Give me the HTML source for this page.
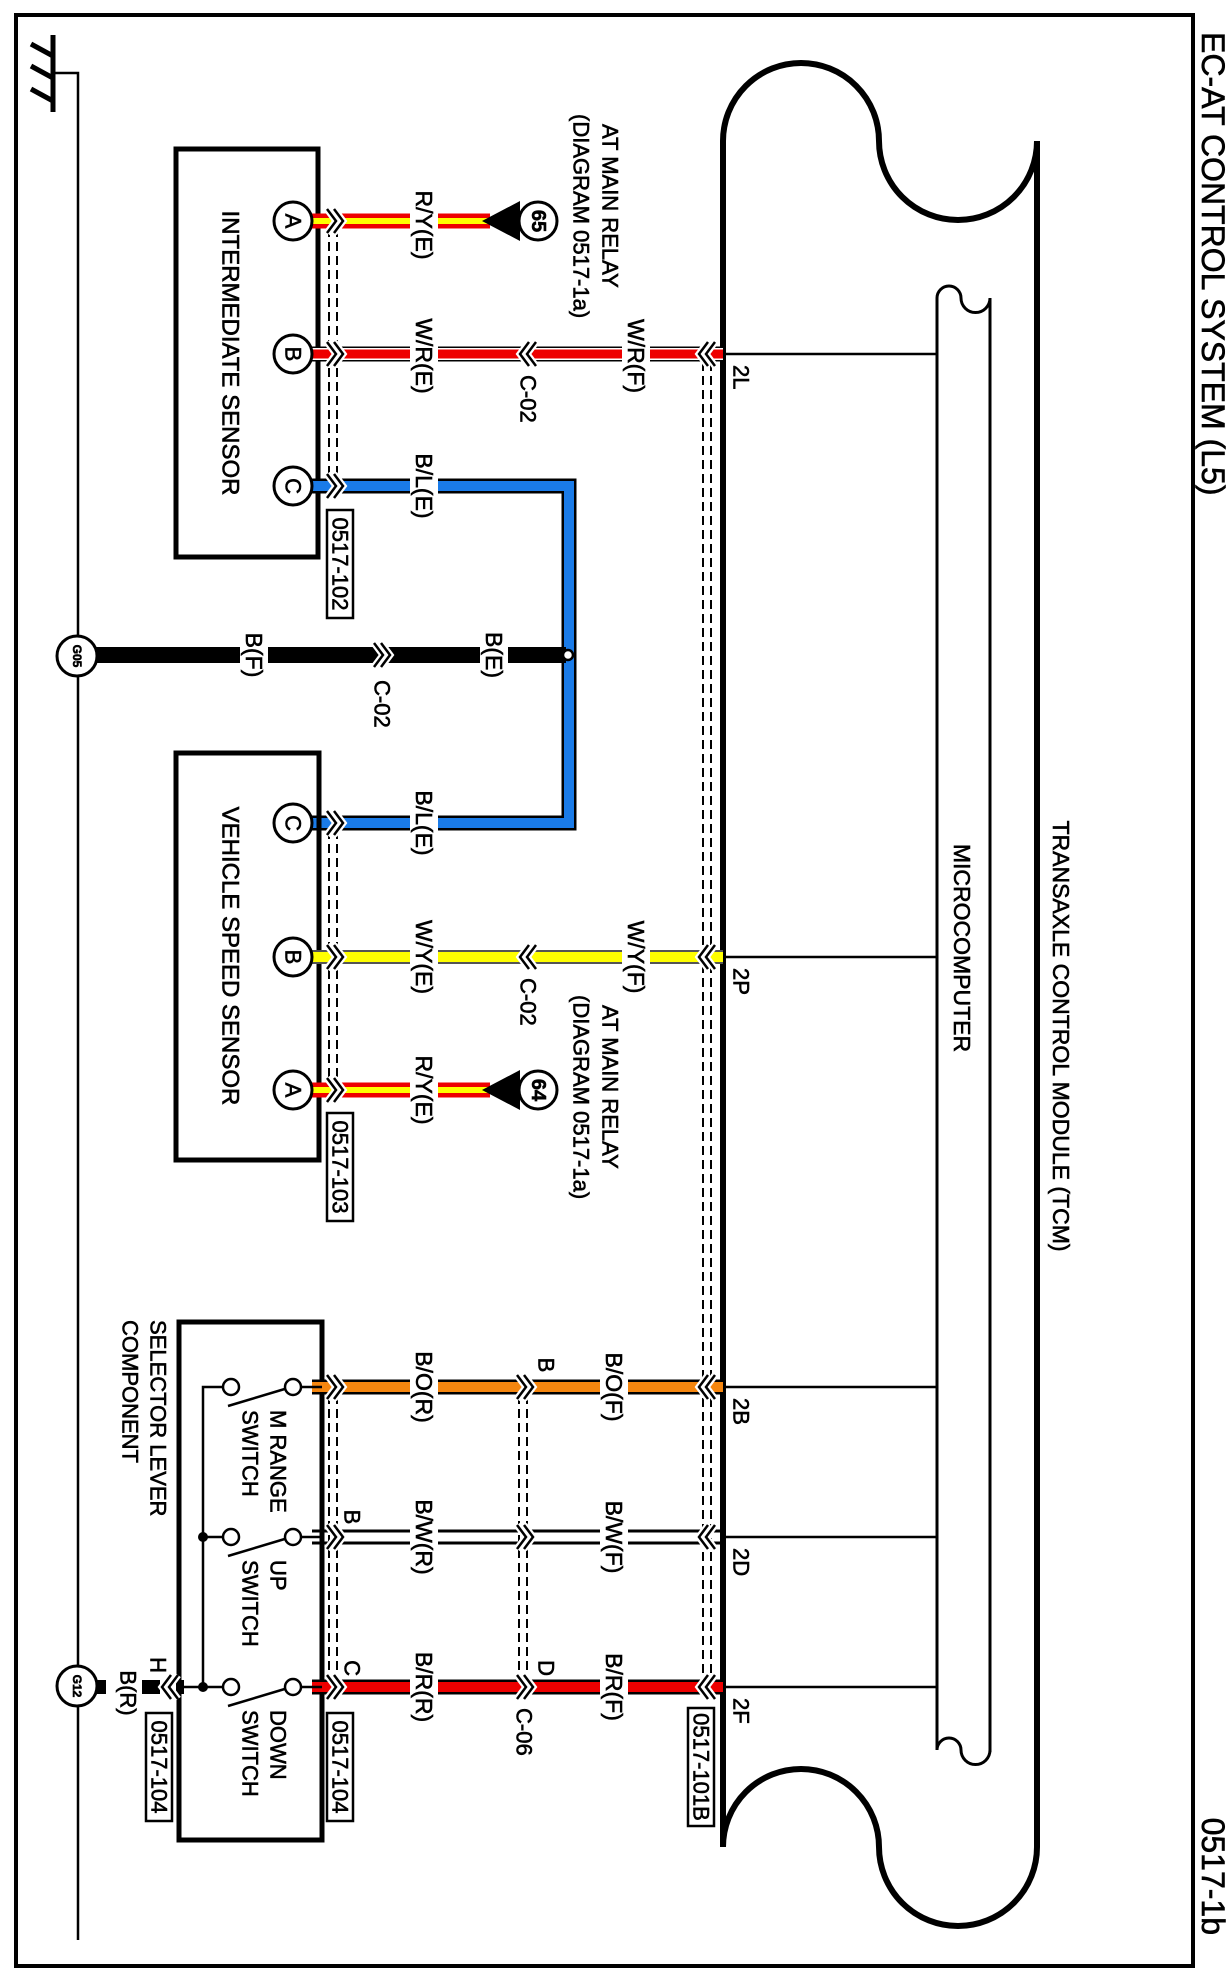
<!DOCTYPE html>
<html><head><meta charset="utf-8"><style>
html,body{margin:0;padding:0;background:#fff}
svg{display:block}
text{font-family:"Liberation Sans",Arial,sans-serif;fill:#000;stroke:#000;stroke-width:0.6}
</style></head><body>
<svg width="1232" height="1980" viewBox="0 0 1232 1980" xmlns="http://www.w3.org/2000/svg">
<defs>
<g id="chR"><path d="M-8,-12 L1,0 L-8,12 M-1,-12 L8,0 L-1,12" fill="none" stroke="#fff" stroke-width="7"/><path d="M-8,-12 L1,0 L-8,12 M-1,-12 L8,0 L-1,12" fill="none" stroke="#000" stroke-width="2.5"/></g>
<g id="chL"><path d="M8,-12 L-1,0 L8,12 M1,-12 L-8,0 L1,12" fill="none" stroke="#fff" stroke-width="7"/><path d="M8,-12 L-1,0 L8,12 M1,-12 L-8,0 L1,12" fill="none" stroke="#000" stroke-width="2.5"/></g>
</defs>
<rect width="1232" height="1980" fill="#fff"/>
<rect x="16" y="15" width="1177" height="1951" fill="none" stroke="#000" stroke-width="4"/>
<text transform="translate(1213,32) rotate(90)" font-size="32" dominant-baseline="central">EC-AT CONTROL SYSTEM (L5)</text>
<text transform="translate(1213,1935) rotate(90)" font-size="32" text-anchor="end" dominant-baseline="central">0517-1b</text>

<path d="M53,35 L53,112 M31,44 L53,56 M31,66 L53,78 M31,89 L53,101" stroke="#000" stroke-width="5" fill="none"/>
<path d="M53,73 L78,73 L78,1940" stroke="#000" stroke-width="2.5" fill="none"/>

<path d="M723,1847 L723,141 A78,78 0 0 1 879,141 A79,79 0 0 0 1037,141 L1037,1847 M723,1847 A78,78 0 0 1 879,1847 A79,79 0 0 0 1037,1847" fill="none" stroke="#000" stroke-width="6"/>
<path d="M937,1750 L937,298 A12,12 0 0 1 961,298 A14.5,14.5 0 0 0 990,298 L990,1752 M937,1750 A12,12 0 0 1 961,1750 A14.5,14.5 0 0 0 990,1750" fill="none" stroke="#000" stroke-width="3"/>
<g stroke="#000" stroke-width="2.5">
<line x1="723" y1="354" x2="937" y2="354"/><line x1="723" y1="957" x2="937" y2="957"/><line x1="723" y1="1387" x2="937" y2="1387"/><line x1="723" y1="1537" x2="937" y2="1537"/><line x1="723" y1="1687" x2="937" y2="1687"/>
</g>
<text transform="translate(1061,1036) rotate(90)" font-size="23" text-anchor="middle" dominant-baseline="central">TRANSAXLE CONTROL MODULE (TCM)</text>
<text transform="translate(962,948) rotate(90)" font-size="23" text-anchor="middle" dominant-baseline="central">MICROCOMPUTER</text>
<g font-size="22" dominant-baseline="central">
<text transform="translate(741,365) rotate(90)">2L</text>
<text transform="translate(741,968) rotate(90)">2P</text>
<text transform="translate(741,1398) rotate(90)">2B</text>
<text transform="translate(741,1548) rotate(90)">2D</text>
<text transform="translate(741,1698) rotate(90)">2F</text>
</g>

<g stroke="#000" stroke-width="2" stroke-dasharray="9,5" fill="none">
<path d="M329,228 V482 M337,228 V482"/>
<path d="M329,830 V1085 M337,830 V1085"/>
<path d="M703,362 V1680 M711,362 V1680"/>
<path d="M329,1395 V1680 M337,1395 V1680"/>
<path d="M519,1395 V1680 M527,1395 V1680"/>
</g>

<rect x="176" y="149" width="142" height="408" fill="none" stroke="#000" stroke-width="5"/>
<text transform="translate(230,353) rotate(90)" font-size="24" text-anchor="middle" dominant-baseline="central">INTERMEDIATE SENSOR</text>
<line x1="312" y1="221" x2="490" y2="221" stroke="#e00" stroke-width="15"/>
<line x1="312" y1="221" x2="490" y2="221" stroke="#ff0" stroke-width="6"/>
<polygon points="482,221 520,201 520,241" fill="#000"/>
<circle cx="538" cy="221" r="19" fill="#fff" stroke="#000" stroke-width="3"/>
<text transform="translate(538,221) rotate(90)" font-size="20" font-weight="bold" text-anchor="middle" dominant-baseline="central">65</text>
<line x1="312" y1="354" x2="723" y2="354" stroke="#000" stroke-width="15"/>
<line x1="312" y1="354" x2="723" y2="354" stroke="#fff" stroke-width="12"/>
<line x1="312" y1="354" x2="723" y2="354" stroke="#e00" stroke-width="9"/>
<path d="M312,486 H569 V823 H312" fill="none" stroke="#000" stroke-width="15"/>
<path d="M312,486 H569 V823 H312" fill="none" stroke="#1a7be8" stroke-width="10"/>
<line x1="78" y1="655" x2="566" y2="655" stroke="#000" stroke-width="16"/>
<circle cx="568" cy="655" r="5" fill="#fff" stroke="#000" stroke-width="2.5"/>
<circle cx="77" cy="656" r="20" fill="#fff" stroke="#000" stroke-width="3"/>
<text transform="translate(77,656) rotate(90)" font-size="12" font-weight="bold" text-anchor="middle" dominant-baseline="central">G05</text>

<rect x="176" y="753" width="143" height="407" fill="none" stroke="#000" stroke-width="5"/>
<text transform="translate(230,956) rotate(90)" font-size="24" text-anchor="middle" dominant-baseline="central">VEHICLE SPEED SENSOR</text>
<line x1="312" y1="957" x2="723" y2="957" stroke="#555" stroke-width="14"/>
<line x1="312" y1="957" x2="723" y2="957" stroke="#ff0" stroke-width="10"/>
<line x1="312" y1="1090" x2="490" y2="1090" stroke="#e00" stroke-width="15"/>
<line x1="312" y1="1090" x2="490" y2="1090" stroke="#ff0" stroke-width="6"/>
<polygon points="482,1090 520,1070 520,1110" fill="#000"/>
<circle cx="538" cy="1090" r="19" fill="#fff" stroke="#000" stroke-width="3"/>
<text transform="translate(538,1090) rotate(90)" font-size="20" font-weight="bold" text-anchor="middle" dominant-baseline="central">64</text>

<g fill="#fff" stroke="#000" stroke-width="3">
<circle cx="293" cy="221" r="19"/><circle cx="293" cy="354" r="19"/><circle cx="293" cy="486" r="19"/>
<circle cx="293" cy="823" r="19"/><circle cx="293" cy="957" r="19"/><circle cx="293" cy="1090" r="19"/>
</g>
<g font-size="22" text-anchor="middle" dominant-baseline="central">
<text transform="translate(293,221) rotate(90)">A</text><text transform="translate(293,354) rotate(90)">B</text><text transform="translate(293,486) rotate(90)">C</text>
<text transform="translate(293,823) rotate(90)">C</text><text transform="translate(293,957) rotate(90)">B</text><text transform="translate(293,1090) rotate(90)">A</text>
</g>

<rect x="179" y="1322" width="143" height="518" fill="none" stroke="#000" stroke-width="5"/>
<line x1="312" y1="1387" x2="723" y2="1387" stroke="#000" stroke-width="15"/>
<line x1="312" y1="1387" x2="723" y2="1387" stroke="#f5860f" stroke-width="10"/>
<line x1="312" y1="1531" x2="723" y2="1531" stroke="#000" stroke-width="3"/>
<line x1="312" y1="1543" x2="723" y2="1543" stroke="#000" stroke-width="3"/>
<line x1="312" y1="1687" x2="723" y2="1687" stroke="#000" stroke-width="15"/>
<line x1="312" y1="1687" x2="723" y2="1687" stroke="#e00" stroke-width="10"/>
<g stroke="#000" stroke-width="2.5" fill="none">
<path d="M322,1387 H301 M322,1537 H301 M322,1687 H301"/>
<path d="M222,1387 H203 V1687 H179 M203,1537 H222 M203,1687 H222"/>
<path d="M228,1406 L288,1388 M228,1556 L288,1538 M228,1706 L288,1688"/>
</g>
<g fill="#fff" stroke="#000" stroke-width="2.5">
<circle cx="293" cy="1387" r="8"/><circle cx="231" cy="1387" r="8"/>
<circle cx="293" cy="1537" r="8"/><circle cx="231" cy="1537" r="8"/>
<circle cx="293" cy="1687" r="8"/><circle cx="231" cy="1687" r="8"/>
</g>
<circle cx="203" cy="1537" r="5" fill="#000"/><circle cx="203" cy="1687" r="5" fill="#000"/>
<rect x="176" y="1680" width="8" height="14" fill="#000"/>
<line x1="142" y1="1687" x2="160" y2="1687" stroke="#000" stroke-width="14"/>
<line x1="97" y1="1687" x2="106" y2="1687" stroke="#000" stroke-width="14"/>
<use href="#chL" x="170" y="1687"/>
<circle cx="77" cy="1686" r="20" fill="#fff" stroke="#000" stroke-width="3"/>
<text transform="translate(77,1686) rotate(90)" font-size="12" font-weight="bold" text-anchor="middle" dominant-baseline="central">G12</text>

<g font-size="22" dominant-baseline="central">
<text transform="translate(278,1410) rotate(90)">M RANGE</text>
<text transform="translate(250,1410) rotate(90)">SWITCH</text>
<text transform="translate(278,1560) rotate(90)">UP</text>
<text transform="translate(250,1560) rotate(90)">SWITCH</text>
<text transform="translate(278,1710) rotate(90)">DOWN</text>
<text transform="translate(250,1710) rotate(90)">SWITCH</text>
<text transform="translate(158,1320) rotate(90)">SELECTOR LEVER</text>
<text transform="translate(130,1320) rotate(90)">COMPONENT</text>
</g>

<use href="#chR" x="335" y="221"/><use href="#chR" x="335" y="354"/><use href="#chR" x="335" y="486"/>
<use href="#chR" x="335" y="823"/><use href="#chR" x="335" y="957"/><use href="#chR" x="335" y="1090"/>
<use href="#chL" x="528" y="354"/><use href="#chL" x="528" y="957"/>
<use href="#chL" x="707" y="354"/><use href="#chL" x="707" y="957"/>
<use href="#chR" x="382" y="655"/>
<use href="#chR" x="335" y="1387"/><use href="#chR" x="335" y="1537"/><use href="#chR" x="335" y="1687"/>
<use href="#chR" x="525" y="1387"/><use href="#chR" x="525" y="1537"/><use href="#chR" x="525" y="1687"/>
<use href="#chL" x="707" y="1387"/><use href="#chL" x="707" y="1537"/><use href="#chL" x="707" y="1687"/>

<g font-size="23" text-anchor="middle" dominant-baseline="central">
<g fill="#fff"><rect x="410" y="190" width="28" height="72"/><rect x="410" y="318" width="28" height="76"/><rect x="622" y="318" width="28" height="76"/>
<rect x="410" y="448" width="28" height="76"/><rect x="410" y="785" width="28" height="76"/>
<rect x="240" y="625" width="28" height="60"/><rect x="480" y="625" width="28" height="60"/>
<rect x="410" y="918" width="28" height="76"/><rect x="622" y="918" width="28" height="76"/><rect x="410" y="1050" width="28" height="72"/>
<rect x="410" y="1347" width="28" height="80"/><rect x="600" y="1347" width="28" height="80"/>
<rect x="410" y="1497" width="28" height="80"/><rect x="600" y="1497" width="28" height="80"/>
<rect x="410" y="1647" width="28" height="80"/><rect x="600" y="1647" width="28" height="80"/>
</g>
<text transform="translate(424,225) rotate(90)">R/Y(E)</text>
<text transform="translate(424,356) rotate(90)">W/R(E)</text>
<text transform="translate(636,356) rotate(90)">W/R(F)</text>
<text transform="translate(424,486) rotate(90)">B/L(E)</text>
<text transform="translate(424,823) rotate(90)">B/L(E)</text>
<text transform="translate(254,655) rotate(90)">B(F)</text>
<text transform="translate(494,655) rotate(90)">B(E)</text>
<text transform="translate(424,957) rotate(90)">W/Y(E)</text>
<text transform="translate(636,957) rotate(90)">W/Y(F)</text>
<text transform="translate(424,1090) rotate(90)">R/Y(E)</text>
<text transform="translate(424,1387) rotate(90)">B/O(R)</text>
<text transform="translate(614,1387) rotate(90)">B/O(F)</text>
<text transform="translate(424,1537) rotate(90)">B/W(R)</text>
<text transform="translate(614,1537) rotate(90)">B/W(F)</text>
<text transform="translate(424,1687) rotate(90)">B/R(R)</text>
<text transform="translate(614,1687) rotate(90)">B/R(F)</text>
</g>
<g font-size="22" dominant-baseline="central">
<text transform="translate(528,375) rotate(90)">C-02</text>
<text transform="translate(382,680) rotate(90)">C-02</text>
<text transform="translate(528,978) rotate(90)">C-02</text>
<text transform="translate(524,1708) rotate(90)">C-06</text>
<text transform="translate(546,1365) rotate(90)" text-anchor="middle">B</text>
<text transform="translate(546,1668) rotate(90)" text-anchor="middle">D</text>
<text transform="translate(352,1517) rotate(90)" text-anchor="middle">B</text>
<text transform="translate(352,1668) rotate(90)" text-anchor="middle">C</text>
<text transform="translate(158,1665) rotate(90)" text-anchor="middle">H</text>
<text transform="translate(128,1693) rotate(90)" text-anchor="middle">B(R)</text>
<text transform="translate(610,124) rotate(90)">AT MAIN RELAY</text>
<text transform="translate(581,114) rotate(90)">(DIAGRAM  0517-1a)</text>
<text transform="translate(610,1005) rotate(90)">AT MAIN RELAY</text>
<text transform="translate(581,995) rotate(90)">(DIAGRAM  0517-1a)</text>
</g>

<g fill="#fff" stroke="#000" stroke-width="2.5">
<rect x="327" y="510" width="26" height="108"/><rect x="327" y="1113" width="26" height="108"/>
<rect x="327" y="1713" width="26" height="108"/><rect x="146" y="1713" width="26" height="108"/>
<rect x="688" y="1708" width="26" height="118"/>
</g>
<g font-size="22" text-anchor="middle" dominant-baseline="central">
<text transform="translate(340,564) rotate(90)">0517-102</text>
<text transform="translate(340,1167) rotate(90)">0517-103</text>
<text transform="translate(340,1767) rotate(90)">0517-104</text>
<text transform="translate(159,1767) rotate(90)">0517-104</text>
<text transform="translate(701,1767) rotate(90)">0517-101B</text>
</g>
</svg>
</body></html>
